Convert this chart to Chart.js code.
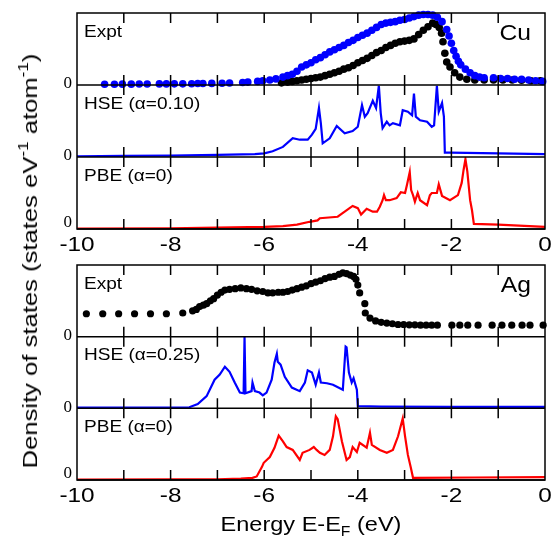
<!DOCTYPE html>
<html>
<head>
<meta charset="utf-8">
<script src="https://cdn.jsdelivr.net/npm/chart.js@4.4.1/dist/chart.umd.min.js"></script>
<style>
  html, body { margin: 0; padding: 0; background: #fff; }
  #wrap { position: relative; width: 552px; height: 539px; overflow: hidden; }
  canvas { position: absolute; left: 0; }
  #ylab {
    position: absolute; left: 30px; top: 261px; white-space: nowrap;
    font: 21px "Liberation Sans", Arial, sans-serif; color: #000;
    transform: translate(-50%, -50%) rotate(-90deg) scaleX(1.22);
  }
  #ylab sup { font-size: 14px; vertical-align: 9px; line-height: 0; }
</style>
</head>
<body>
<div id="wrap">
  <canvas id="cu" width="552" height="252" style="top:0"></canvas>
  <canvas id="ag" width="552" height="287" style="top:252px"></canvas>
  <div id="ylab">Density of states (states eV<sup>-1</sup> atom<sup>-1</sup>)</div>
</div>
<script>
// axis labels
const energyLabels = [-10, -8, -6, -4, -2, 0];
const minorTicks = [-9, -8, -7, -6, -5, -4, -3, -2, -1];
const cuPanels = ['Expt', 'HSE (α=0.10)', 'PBE (α=0)'];
const agPanels = ['Expt', 'HSE (α=0.25)', 'PBE (α=0)'];

// Cu photoemission, two measurements  [E - EF (eV), DOS (arb.)]
const cuExptBlue = [[-9.41,0.01],[-9.20,0.01],[-9.03,0.012],[-8.84,0.012],[-8.67,0.013],[-8.50,0.013],
  [-8.24,0.015],[-8.09,0.015],[-7.92,0.016],[-7.74,0.016],[-7.55,0.018],[-7.42,0.02],[-7.31,0.02],
  [-7.12,0.022],[-6.90,0.025],[-6.74,0.028],[-6.46,0.035],[-6.35,0.04],[-6.14,0.05],[-6.03,0.06],
  [-5.88,0.07],[-5.75,0.085],[-5.6,0.11],[-5.5,0.13],[-5.4,0.15],[-5.3,0.19],[-5.2,0.25],[-5.1,0.28],
  [-5.0,0.31],[-4.9,0.35],[-4.8,0.38],[-4.7,0.42],[-4.6,0.46],[-4.5,0.49],[-4.4,0.52],[-4.3,0.55],
  [-4.2,0.59],[-4.1,0.62],[-4.0,0.66],[-3.9,0.69],[-3.8,0.72],[-3.7,0.76],[-3.6,0.80],[-3.5,0.84],
  [-3.4,0.86],[-3.3,0.87],[-3.2,0.88],[-3.1,0.90],[-3.0,0.91],[-2.9,0.93],[-2.8,0.95],[-2.7,0.97],
  [-2.6,0.98],[-2.5,0.98],[-2.4,0.97],[-2.3,0.94],[-2.2,0.88],[-2.1,0.77],[-2.05,0.68],[-2.0,0.58],
  [-1.95,0.48],[-1.9,0.40],[-1.85,0.33],[-1.8,0.28],[-1.7,0.22],[-1.6,0.17],[-1.5,0.13],[-1.4,0.11],
  [-1.3,0.10],[-1.1,0.10],[-0.95,0.09],[-0.8,0.09],[-0.65,0.08],[-0.5,0.08],[-0.35,0.07],[-0.2,0.06],
  [-0.05,0.05]];
const cuExptBlack = [[-5.63,0.03],[-5.5,0.04],[-5.4,0.05],[-5.3,0.06],[-5.2,0.07],[-5.1,0.08],[-5.0,0.09],
  [-4.9,0.10],[-4.8,0.11],[-4.7,0.13],[-4.6,0.15],[-4.5,0.17],[-4.4,0.19],[-4.3,0.22],[-4.2,0.24],
  [-4.1,0.27],[-4.0,0.31],[-3.9,0.34],[-3.8,0.37],[-3.7,0.41],[-3.6,0.45],[-3.5,0.48],[-3.4,0.52],
  [-3.3,0.55],[-3.2,0.58],[-3.1,0.60],[-3.0,0.61],[-2.9,0.62],[-2.8,0.64],[-2.7,0.70],[-2.6,0.76],
  [-2.5,0.81],[-2.4,0.86],[-2.33,0.84],[-2.26,0.80],[-2.21,0.72],[-2.18,0.60],[-2.14,0.44],[-2.10,0.32],
  [-2.03,0.25],[-1.93,0.17],[-1.82,0.11],[-1.67,0.08],[-1.5,0.07],[-1.3,0.07],[-1.1,0.07],[-0.9,0.07],
  [-0.7,0.07],[-0.5,0.065],[-0.3,0.06],[-0.1,0.06]];
const cuHse = [[-10,0.01],[-9,0.015],[-8,0.02],[-7,0.03],[-6.2,0.04],[-6.0,0.05],[-5.82,0.08],[-5.60,0.14],
  [-5.39,0.26],[-5.24,0.24],[-5.07,0.24],[-4.98,0.31],[-4.90,0.39],[-4.83,0.68],[-4.79,0.47],[-4.75,0.19],
  [-4.60,0.26],[-4.45,0.43],[-4.28,0.33],[-4.11,0.36],[-4.00,0.42],[-3.91,0.72],[-3.85,0.56],[-3.79,0.61],
  [-3.68,0.78],[-3.61,0.68],[-3.55,0.99],[-3.51,0.61],[-3.47,0.40],[-3.38,0.49],[-3.32,0.44],[-3.25,0.47],
  [-3.10,0.44],[-3.04,0.65],[-2.93,0.63],[-2.84,0.58],[-2.80,0.88],[-2.76,0.56],[-2.67,0.51],[-2.52,0.49],
  [-2.42,0.42],[-2.37,0.44],[-2.31,0.99],[-2.27,0.63],[-2.20,0.75],[-2.16,0.56],[-2.14,0.06],[-2.03,0.06],
  [-1,0.05],[0,0.04]];
const cuPbe = [[-10,0.005],[-8,0.01],[-7,0.02],[-6,0.03],[-5.6,0.04],[-5.3,0.06],[-5.03,0.10],[-4.86,0.12],
  [-4.81,0.15],[-4.43,0.17],[-4.28,0.24],[-4.11,0.32],[-4.0,0.29],[-3.93,0.20],[-3.81,0.28],[-3.68,0.24],
  [-3.59,0.24],[-3.53,0.31],[-3.47,0.40],[-3.44,0.47],[-3.40,0.40],[-3.32,0.40],[-3.17,0.43],[-3.08,0.51],
  [-2.99,0.50],[-2.95,0.61],[-2.89,0.79],[-2.86,0.54],[-2.82,0.47],[-2.78,0.38],[-2.72,0.50],[-2.67,0.40],
  [-2.52,0.33],[-2.46,0.47],[-2.42,0.50],[-2.31,0.50],[-2.27,0.62],[-2.20,0.46],[-2.03,0.40],[-1.86,0.47],
  [-1.78,0.64],[-1.74,0.82],[-1.70,0.97],[-1.66,0.80],[-1.60,0.40],[-1.56,0.26],[-1.52,0.07],[-1.0,0.06],
  [0,0.03]];

// Ag
const agExpt = [[-9.80,0.32],[-9.45,0.32],[-9.11,0.32],[-8.77,0.32],[-8.43,0.32],[-8.09,0.32],[-7.74,0.33],
  [-7.53,0.36],[-7.45,0.38],[-7.38,0.42],[-7.30,0.44],[-7.23,0.46],[-7.15,0.50],[-7.08,0.53],[-7.0,0.58],
  [-6.92,0.62],[-6.84,0.65],[-6.74,0.66],[-6.62,0.67],[-6.50,0.68],[-6.38,0.67],[-6.27,0.66],[-6.15,0.64],
  [-6.03,0.63],[-5.92,0.61],[-5.82,0.61],[-5.70,0.62],[-5.60,0.62],[-5.50,0.63],[-5.40,0.65],[-5.30,0.67],
  [-5.20,0.69],[-5.10,0.71],[-5.00,0.74],[-4.90,0.76],[-4.80,0.78],[-4.70,0.81],[-4.60,0.83],[-4.50,0.84],
  [-4.40,0.87],[-4.32,0.89],[-4.24,0.88],[-4.16,0.86],[-4.09,0.84],[-4.04,0.80],[-4.00,0.72],[-3.96,0.61],
  [-3.85,0.46],[-3.84,0.33],[-3.74,0.26],[-3.62,0.22],[-3.50,0.20],[-3.38,0.19],[-3.26,0.18],[-3.14,0.17],
  [-3.02,0.17],[-2.90,0.165],[-2.78,0.165],[-2.66,0.16],[-2.54,0.16],[-2.42,0.16],[-2.30,0.16],[-1.99,0.16],
  [-1.82,0.16],[-1.65,0.16],[-1.43,0.16],[-1.13,0.16],[-0.92,0.16],[-0.71,0.16],[-0.49,0.16],[-0.32,0.16],
  [-0.04,0.16]];
const agHse = [[-10,0.01],[-8,0.01],[-7.6,0.015],[-7.42,0.06],[-7.23,0.17],[-7.06,0.40],[-6.95,0.47],
  [-6.84,0.58],[-6.74,0.51],[-6.63,0.36],[-6.52,0.22],[-6.44,0.21],[-6.42,1.0],[-6.40,0.21],[-6.27,0.24],
  [-6.25,0.36],[-6.20,0.24],[-6.10,0.22],[-6.03,0.18],[-5.95,0.22],[-5.84,0.40],[-5.78,0.64],[-5.73,0.76],
  [-5.71,0.65],[-5.65,0.61],[-5.56,0.44],[-5.41,0.29],[-5.24,0.24],[-5.13,0.36],[-5.07,0.53],[-4.98,0.50],
  [-4.90,0.33],[-4.83,0.50],[-4.79,0.36],[-4.66,0.35],[-4.53,0.33],[-4.32,0.26],[-4.26,0.86],[-4.24,0.85],
  [-4.19,0.50],[-4.13,0.36],[-4.09,0.42],[-4.02,0.26],[-4.00,0.03],[-3.5,0.025],[-2,0.02],[0,0.02]];
const agPbe = [[-10,0.005],[-8,0.008],[-7,0.01],[-6.5,0.02],[-6.25,0.03],[-6.16,0.05],[-6.05,0.18],
  [-6.01,0.24],[-5.88,0.32],[-5.78,0.45],[-5.69,0.62],[-5.60,0.54],[-5.52,0.46],[-5.39,0.42],[-5.24,0.28],
  [-5.18,0.38],[-5.03,0.42],[-4.94,0.46],[-4.88,0.42],[-4.81,0.38],[-4.71,0.35],[-4.60,0.42],[-4.53,0.61],
  [-4.47,0.89],[-4.43,0.85],[-4.34,0.54],[-4.24,0.28],[-4.17,0.32],[-4.11,0.46],[-4.02,0.39],[-3.96,0.52],
  [-3.81,0.45],[-3.74,0.66],[-3.70,0.49],[-3.53,0.42],[-3.38,0.38],[-3.25,0.42],[-3.14,0.61],[-3.04,0.86],
  [-2.99,0.61],[-2.93,0.35],[-2.87,0.18],[-2.82,0.03],[-1.5,0.035],[0,0.04]];

const SANS = '"Liberation Sans", Arial, sans-serif';
const BLUE = '#0000ff', RED = '#ff0000';

// text is drawn a bit wider than Arial, like the original figure
function wideText(ctx, str, x, y, align, sx) {
  ctx.save();
  ctx.translate(x, y);
  ctx.scale(sx, 1);
  ctx.textAlign = align;
  ctx.fillText(str, 0, 0);
  ctx.restore();
}

const frame = {
  id: 'frame',
  afterDraw(chart, args, opts) {
    const ctx = chart.ctx, xs = chart.scales.x, a = chart.chartArea;
    const ys = ['y0', 'y1', 'y2'].map(k => chart.scales[k]);
    ctx.save();
    ctx.strokeStyle = '#000';
    ctx.lineWidth = 1.5;
    ctx.strokeRect(a.left, a.top, a.right - a.left, a.bottom - a.top);
    ctx.beginPath();
    ys.forEach(s => {
      const y0 = s.getPixelForValue(0);
      ctx.moveTo(a.left, y0); ctx.lineTo(a.right, y0);
    });
    // inward ticks on every panel edge
    minorTicks.forEach(e => {
      const px = xs.getPixelForValue(e);
      ys.forEach(s => {
        ctx.moveTo(px, s.top); ctx.lineTo(px, s.top + 10);
        ctx.moveTo(px, s.bottom); ctx.lineTo(px, s.bottom - 10);
      });
    });
    ctx.stroke();

    ctx.fillStyle = '#000';
    ctx.textBaseline = 'middle';
    // "0" on each panel
    ctx.font = '17px "Liberation Serif", "Times New Roman", serif';
    ys.forEach((s, i) => {
      const y0 = s.getPixelForValue(0) - (i === 2 ? 6 : 1);
      ctx.textAlign = 'right';
      ctx.fillText('0', a.left - 5, y0);
    });
    // panel names
    ctx.font = '17px ' + SANS;
    ys.forEach((s, i) => wideText(ctx, opts.panels[i], a.left + 7, s.top + 19, 'left', 1.12));
    ctx.font = '22px ' + SANS;
    wideText(ctx, opts.metal, a.right - 14, ys[0].top + 21, 'right', 1.12);

    // energy tick labels
    ctx.textBaseline = 'alphabetic';
    ctx.font = '21px ' + SANS;
    energyLabels.forEach(v => wideText(ctx, String(v), xs.getPixelForValue(v), a.bottom + 22, 'center', 1.16));

    if (opts.title) {
      const sx = 1.12, cx = (a.left + a.right) / 2, base = a.bottom + 51;
      ctx.font = '21px ' + SANS;
      const w1 = ctx.measureText('Energy E-E').width, w3 = ctx.measureText(' (eV)').width;
      ctx.font = '14px ' + SANS;
      const w2 = ctx.measureText('F').width;
      let x = cx - (w1 + w2 + w3) * sx / 2;
      ctx.font = '21px ' + SANS;
      wideText(ctx, 'Energy E-E', x, base, 'left', sx);
      x += w1 * sx;
      ctx.font = '14px ' + SANS;
      wideText(ctx, 'F', x, base + 5, 'left', sx);
      x += w2 * sx;
      ctx.font = '21px ' + SANS;
      wideText(ctx, ' (eV)', x, base, 'left', sx);
    }
    ctx.restore();
  }
};

const toXY = arr => arr.map(([x, y]) => ({ x, y }));
const dots = (data, color, r, axis) => ({
  data: toXY(data), yAxisID: axis, showLine: false, pointRadius: r,
  pointBackgroundColor: color, pointBorderWidth: 0, clip: false
});
const curve = (data, color, axis) => ({
  data: toXY(data), yAxisID: axis, showLine: true, borderColor: color,
  borderWidth: 2.2, pointRadius: 0, fill: false, tension: 0
});

function panelAxis() {
  return {
    type: 'linear', min: 0, max: 1, position: 'left', stack: 'dos', stackWeight: 1, offset: false,
    ticks: { display: false }, grid: { display: false }, border: { display: false },
    afterFit(s) { s.width = 77; }
  };
}

function makeChart(id, datasets, xHeight, panels, metal, title) {
  return new Chart(document.getElementById(id), {
    type: 'scatter',
    data: { datasets },
    options: {
      responsive: false,
      animation: false,
      events: [],
      layout: { padding: { top: 13, right: 7, left: 0, bottom: 0 } },
      plugins: {
        legend: { display: false },
        tooltip: { enabled: false },
        frame: { panels, metal, title }
      },
      // stacked axes are laid out bottom-up, so PBE comes first
      scales: {
        x: {
          type: 'linear', min: -10, max: 0,
          ticks: { display: false }, grid: { display: false }, border: { display: false },
          afterFit(s) { s.height = xHeight; }
        },
        y2: panelAxis(),
        y1: panelAxis(),
        y0: panelAxis()
      }
    },
    plugins: [frame]
  });
}

makeChart('cu', [
  dots(cuExptBlue, BLUE, 3.8, 'y0'),
  dots(cuExptBlack, '#000', 3.8, 'y0'),
  curve(cuHse, BLUE, 'y1'),
  curve(cuPbe, RED, 'y2')
], 23, cuPanels, 'Cu', false);

makeChart('ag', [
  dots(agExpt, '#000', 3.6, 'y0'),
  curve(agHse, BLUE, 'y1'),
  curve(agPbe, RED, 'y2')
], 59, agPanels, 'Ag', true);
</script>
</body>
</html>
